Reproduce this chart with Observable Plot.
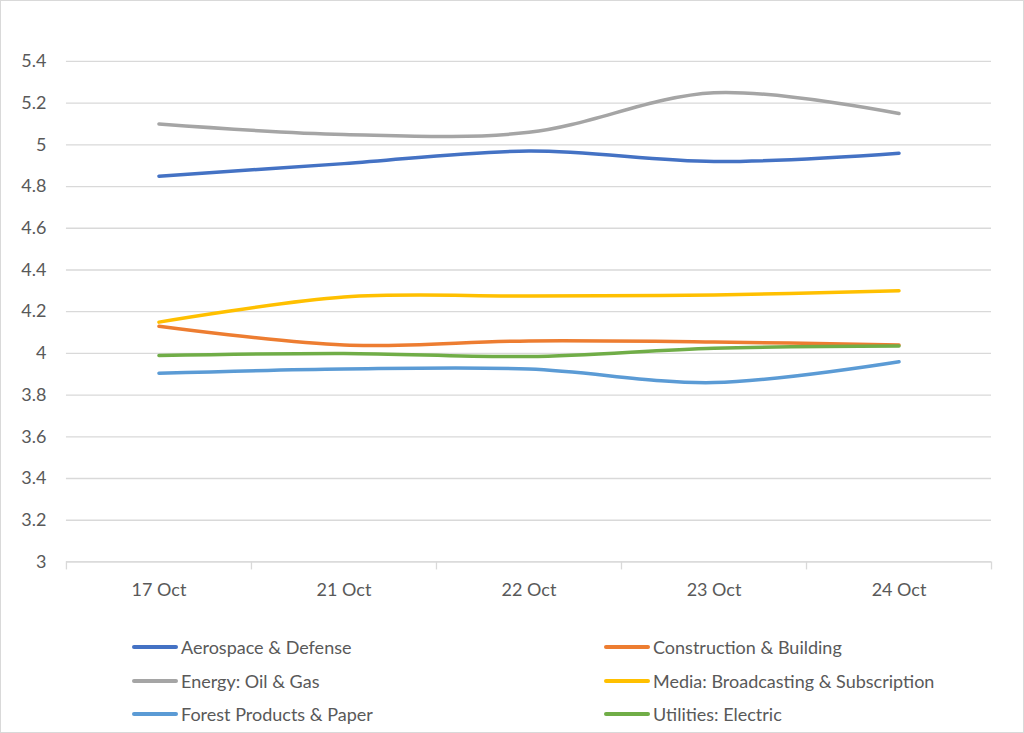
<!DOCTYPE html>
<html>
<head>
<meta charset="utf-8">
<script src="https://cdn.jsdelivr.net/npm/d3@7"></script>
<script src="https://cdn.jsdelivr.net/npm/@observablehq/plot@0.6"></script>
<style>
  html, body { margin: 0; padding: 0; background: #fff; }
  #wrap { position: relative; width: 1024px; height: 733px; box-sizing: border-box; border: 1px solid #d9d9d9; overflow: hidden; font-family: Lato, "Open Sans", sans-serif; }
  #chart { position: absolute; left: -1px; top: -1px; }
  #legend { position: absolute; left: 0; top: 0; width: 1024px; height: 733px; pointer-events: none; }
  .item { position: absolute; display: flex; align-items: center; font-size: 18px; color: #595959; white-space: nowrap; transform: translateY(-50%); }
  .sw { width: 46px; height: 4px; margin-right: 3px; border-radius: 2px; }
</style>
</head>
<body>
<div id="wrap"><div id="chart"></div><div id="legend"></div></div>
<script>
const categories = ["17 Oct", "21 Oct", "22 Oct", "23 Oct", "24 Oct"];
const seriesNames = [
  "Aerospace & Defense",
  "Construction & Building",
  "Energy: Oil & Gas",
  "Media: Broadcasting & Subscription",
  "Forest Products & Paper",
  "Utilities: Electric"
];
const aerospace    = [4.85, 4.91, 4.97, 4.92, 4.96];
const construction = [4.13, 4.04, 4.06, 4.055, 4.04];
const energy       = [5.10, 5.05, 5.06, 5.25, 5.15];
const media        = [4.15, 4.27, 4.275, 4.28, 4.30];
const forest       = [3.905, 3.925, 3.925, 3.86, 3.96];
const utilities    = [3.99, 4.00, 3.985, 4.025, 4.035];
const colors = ["#4472C4", "#ED7D31", "#A5A5A5", "#FFC000", "#5B9BD5", "#70AD47"];
const yTicks = [3, 3.2, 3.4, 3.6, 3.8, 4, 4.2, 4.4, 4.6, 4.8, 5, 5.2, 5.4];

const valuesBySeries = [aerospace, construction, energy, media, forest, utilities];
const data = [];
seriesNames.forEach((s, k) => valuesBySeries[k].forEach((v, i) => data.push({series: s, i, value: v})));
const idx = categories.map((_, i) => i);
const boundaries = d3.range(categories.length + 1).map(i => i - 0.5);

const chart = Plot.plot({
  width: 1024,
  height: 610,
  marginLeft: 66,
  marginRight: 32,
  marginTop: 61,
  marginBottom: 48,
  style: { fontFamily: "Lato, 'Open Sans', sans-serif", fontSize: "18px", color: "#595959", background: "transparent" },
  x: { domain: [-0.5, categories.length - 0.5], axis: null },
  y: { domain: [3, 5.4], axis: null },
  color: { domain: seriesNames, range: colors },
  marks: [
    Plot.gridY(yTicks, { stroke: "#d9d9d9", strokeOpacity: 1, strokeWidth: 1.3 }),
    Plot.axisY(yTicks, { tickSize: 0, tickPadding: 20, fill: "#595959", fontSize: 18, label: null, tickFormat: d => String(d) }),
    Plot.axisX(boundaries, { tickSize: 8, tickFormat: () => "", stroke: "#d9d9d9", strokeWidth: 1.3, label: null }),
    Plot.ruleY([3], { stroke: "#d9d9d9", strokeWidth: 1.3 }),
    Plot.axisX(idx, { tickSize: 0, tickPadding: 21, tickFormat: i => categories[i], fill: "#595959", fontSize: 18, label: null }),
    Plot.line(data, { x: "i", y: "value", z: "series", stroke: "series", curve: "catmull-rom", strokeWidth: 3.5, strokeLinecap: "round" })
  ]
});
document.getElementById("chart").appendChild(chart);

const legend = d3.select("#legend");
const colX = [131, 603];
const rowY = [646, 680, 713];
seriesNames.forEach((s, k) => {
  const item = legend.append("div").attr("class", "item")
    .style("left", colX[k % 2] + "px")
    .style("top", rowY[Math.floor(k / 2)] + "px");
  item.append("div").attr("class", "sw").style("background", colors[k]);
  item.append("span").text(s);
});
</script>
</body>
</html>
